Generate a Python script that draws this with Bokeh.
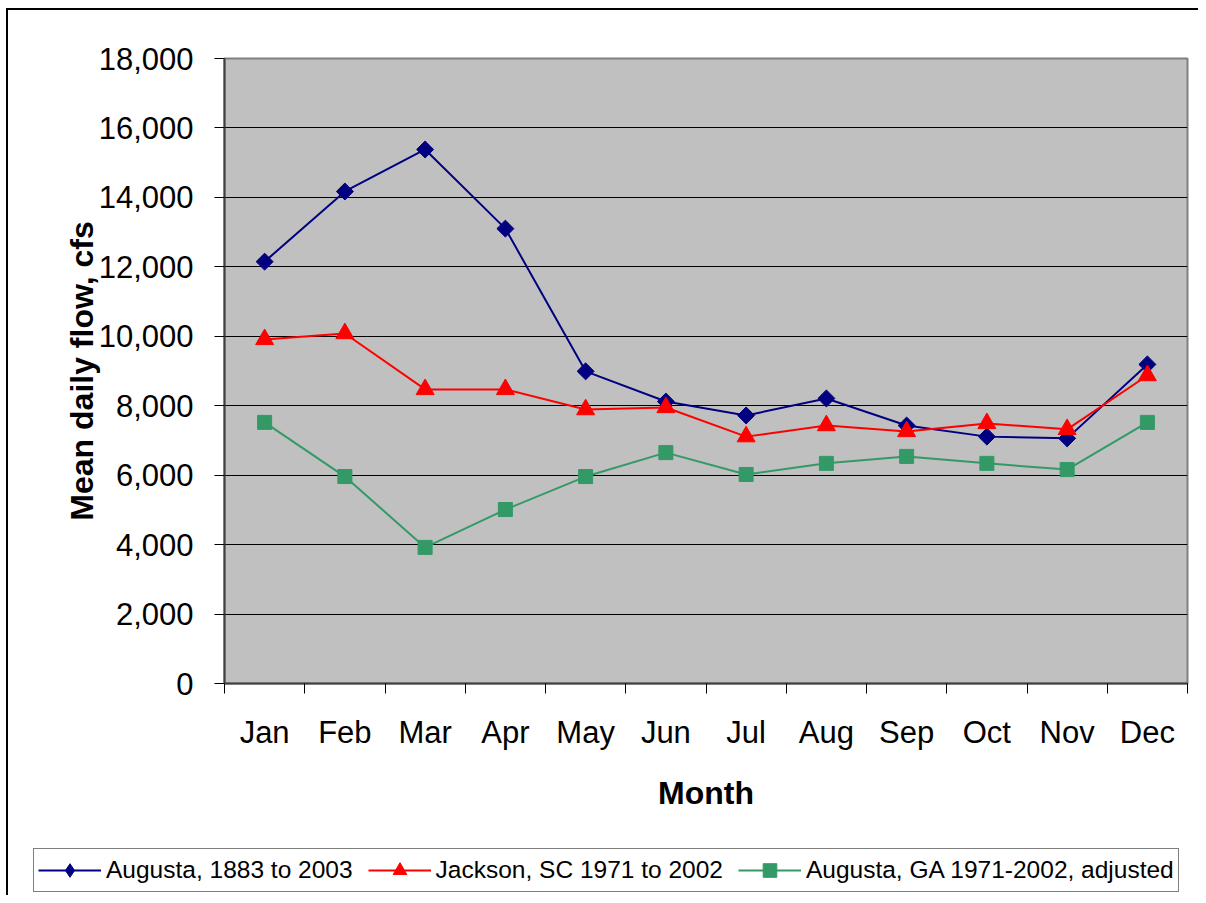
import numpy as np
from bokeh.plotting import figure
from bokeh.layouts import column, row
from bokeh.models import FixedTicker, NumeralTickFormatter, Legend, LegendItem
from bokeh.embed import file_html
from bokeh.resources import INLINE

months = ["Jan", "Feb", "Mar", "Apr", "May", "Jun", "Jul", "Aug", "Sep", "Oct", "Nov", "Dec"]
augusta_1883_2003 = [12150, 14170, 15380, 13100, 8990, 8120, 7720, 8210, 7430, 7110, 7060, 9190]
jackson_1971_2002 = [9910, 10080, 8470, 8470, 7890, 7950, 7110, 7430, 7260, 7490, 7320, 8870]
augusta_ga_adjusted = [7520, 5960, 3920, 5010, 5960, 6650, 6020, 6340, 6540, 6340, 6160, 7520]
y_ticks = [0, 2000, 4000, 6000, 8000, 10000, 12000, 14000, 16000, 18000]

series_names = ["Augusta, 1883 to 2003", "Jackson, SC 1971 to 2002", "Augusta, GA 1971-2002, adjusted"]
series_values = [augusta_1883_2003, jackson_1971_2002, augusta_ga_adjusted]
series_colors = ["#000080", "#FF0000", "#339966"]

x = list(range(1, len(months) + 1))
boundaries = [i + 0.5 for i in range(0, len(months) + 1)]

FONT = "Liberation Sans"

p = figure(width=1190, height=830, x_range=(0.5, 12.5), y_range=(0, 18000),
           output_backend="svg", toolbar_location=None,
           min_border_left=216, min_border_top=48, min_border_right=11, min_border_bottom=157)

p.background_fill_color = "#C0C0C0"
p.border_fill_color = "white"
p.outline_line_color = "#808080"
p.outline_line_width = 2

# grid
p.xgrid.grid_line_color = None
p.ygrid.grid_line_color = "#000000"
p.ygrid.grid_line_width = 1
p.ygrid.ticker = FixedTicker(ticks=y_ticks)

# x axis
xa = p.xaxis[0]
xa.ticker = FixedTicker(ticks=x, minor_ticks=boundaries)
xa.major_label_overrides = {xi: m for xi, m in zip(x, months)}
xa.major_tick_out = 0
xa.major_tick_in = 0
xa.minor_tick_out = 10
xa.minor_tick_in = 0
xa.minor_tick_line_color = "#000000"
xa.axis_line_color = "#404040"
xa.axis_line_width = 2
xa.major_label_text_font = FONT
xa.major_label_text_font_size = "31px"
xa.major_label_text_color = "#000000"
xa.major_label_standoff = 21
xa.axis_label = "Month"
xa.axis_label_text_font = FONT
xa.axis_label_text_font_style = "bold"
xa.axis_label_text_font_size = "32px"
xa.axis_label_text_color = "#000000"
xa.axis_label_standoff = 22

# y axis
ya = p.yaxis[0]
ya.ticker = FixedTicker(ticks=y_ticks)
ya.formatter = NumeralTickFormatter(format="0,0")
ya.major_tick_out = 10
ya.major_tick_in = 0
ya.minor_tick_line_color = None
ya.major_tick_line_color = "#000000"
ya.axis_line_color = "#404040"
ya.axis_line_width = 2
ya.major_label_text_font = FONT
ya.major_label_text_font_size = "31px"
ya.major_label_text_color = "#000000"
ya.major_label_standoff = 21
ya.axis_label = "Mean daily flow, cfs"
ya.axis_label_text_font = FONT
ya.axis_label_text_font_style = "bold"
ya.axis_label_text_font_size = "32px"
ya.axis_label_text_color = "#000000"
ya.axis_label_standoff = -4


def add_series(fig, vals, color, idx, in_legend=False):
    ln = fig.line(x, vals, line_color=color, line_width=2)
    if idx == 0:
        if in_legend:
            sc = fig.scatter(x, vals, marker="diamond", size=16,
                             fill_color=color, line_color=color)
        else:
            sc = fig.scatter(x, vals, marker="square", angle=np.pi / 4, size=12,
                             fill_color=color, line_color=color)
    elif idx == 1:
        sc = fig.scatter(x, vals, marker="triangle", size=18,
                         fill_color=color, line_color=color)
    else:
        sc = fig.scatter(x, vals, marker="square", size=14,
                         fill_color=color, line_color=color)
    return ln, sc


for i, (vals, col) in enumerate(zip(series_values, series_colors)):
    add_series(p, vals, col, i)

# legend figure (same series drawn out of view; only the legend shows)
lf = figure(width=1190, height=55, x_range=(100, 200), y_range=(0, 18000),
            output_backend="svg", toolbar_location=None,
            x_axis_type=None, y_axis_type=None,
            min_border_left=0, min_border_right=0, min_border_top=0, min_border_bottom=0)
lf.outline_line_color = None
lf.background_fill_color = "white"
lf.border_fill_color = "white"
lf.xgrid.visible = False
lf.ygrid.visible = False

items = []
for i, (vals, col, name) in enumerate(zip(series_values, series_colors, series_names)):
    ln, sc = add_series(lf, vals, col, i, in_legend=True)
    items.append(LegendItem(label=name, renderers=[ln, sc]))

legend = Legend(items=items, location=(25, 3), orientation="horizontal")
legend.label_text_font = FONT
legend.label_text_font_size = "24.5px"
legend.label_text_color = "#000000"
legend.glyph_width = 63
legend.glyph_height = 34
legend.label_standoff = 5
legend.spacing = 15
legend.padding = 4
legend.margin = 0
legend.border_line_color = "#000000"
legend.border_line_width = 1
legend.background_fill_color = "white"
legend.background_fill_alpha = 1.0
lf.add_layout(legend, "center")

layout = column(p, row(lf), spacing=0)
layout.styles = {"border-left": "2px solid #000000", "border-top": "2px solid #000000",
                 "margin-left": "6px", "margin-top": "8px"}

open("out.html", "w").write(file_html(layout, INLINE))
